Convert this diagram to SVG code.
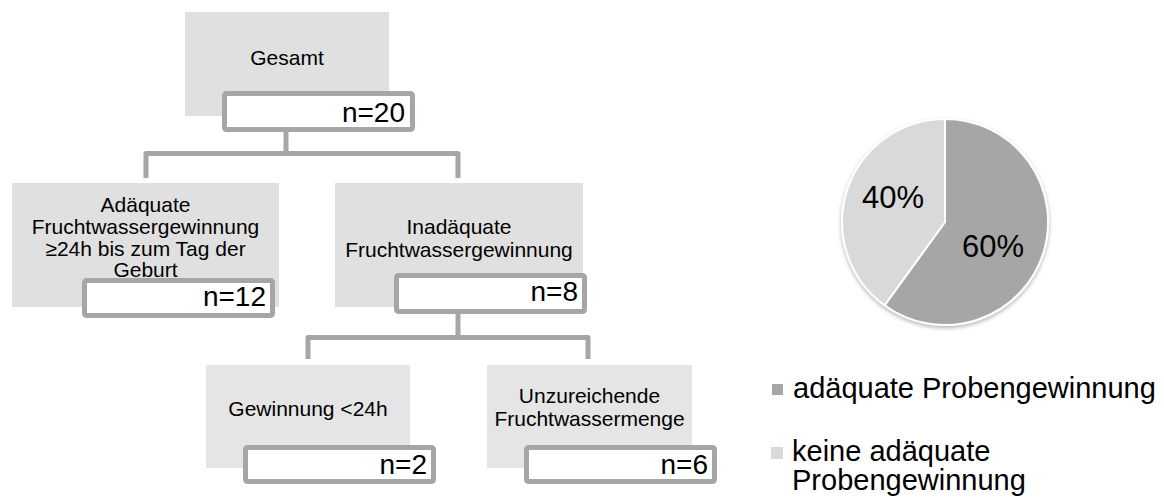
<svg xmlns="http://www.w3.org/2000/svg" width="1164" height="501" viewBox="0 0 1164 501">
<defs>
<style>
.box{fill:#e0e0e0;}
.box2{fill:#e5e5e5;}
.nbox{fill:#ffffff;stroke:#a6a6a6;stroke-width:5;}
.conn{fill:none;stroke:#a6a6a6;stroke-width:5;stroke-linejoin:round;stroke-linecap:butt;}
.lbl{font-family:"Liberation Sans",Arial,sans-serif;font-size:21px;fill:#000;text-anchor:middle;}
.num{font-family:"Liberation Sans",Arial,sans-serif;font-size:28px;fill:#000;text-anchor:end;}
.pct{font-family:"Liberation Sans",Arial,sans-serif;font-size:31px;fill:#000;}
.leg{font-family:"Liberation Sans",Arial,sans-serif;font-size:29px;fill:#000;}
</style>
<filter id="sh" x="-10%" y="-10%" width="120%" height="125%">
<feGaussianBlur in="SourceAlpha" stdDeviation="2"/>
<feOffset dx="0" dy="2"/>
<feComponentTransfer><feFuncA type="linear" slope="0.3"/></feComponentTransfer>
<feMerge><feMergeNode/><feMergeNode in="SourceGraphic"/></feMerge>
</filter>
</defs>
<rect width="1164" height="501" fill="#ffffff"/>

<g id="connectors">
<path class="conn" d="M286,132 V153.5"/>
<path class="conn" d="M146,178 V153.5 H458 V178"/>
<path class="conn" d="M458,314 V337.5"/>
<path class="conn" d="M308,359 V337.5 H588 V359"/>
</g>

<g id="node-gesamt">
<rect class="box" x="185" y="12" width="204" height="104"/>
<text class="lbl" x="287" y="65">Gesamt</text>
<rect class="nbox" x="224.5" y="93.5" width="188" height="36" rx="2"/>
<text class="num" x="405" y="122">n=20</text>
</g>

<g id="node-adaequat">
<rect class="box" x="12" y="183" width="267" height="124"/>
<text class="lbl" x="145.5"><tspan x="145.5" y="211.7">Adäquate</tspan><tspan x="145.5" y="234">Fruchtwassergewinnung</tspan><tspan x="145.5" y="256">≥24h bis zum Tag der</tspan><tspan x="145.5" y="277.3">Geburt</tspan></text>
<rect class="nbox" x="84.5" y="280.5" width="188" height="35" rx="2"/>
<text class="num" x="266" y="306">n=12</text>
</g>

<g id="node-inadaequat">
<rect class="box" x="335" y="183" width="248" height="124"/>
<text class="lbl" x="459"><tspan x="459" y="234">Inadäquate</tspan><tspan x="459" y="257">Fruchtwassergewinnung</tspan></text>
<rect class="nbox" x="396.5" y="275.5" width="188" height="36" rx="2"/>
<text class="num" x="578" y="301">n=8</text>
</g>

<g id="node-gewinnung">
<rect class="box2" x="206" y="365" width="204" height="103"/>
<text class="lbl" x="308" y="416">Gewinnung &lt;24h</text>
<rect class="nbox" x="245.5" y="447.5" width="188" height="34" rx="2"/>
<text class="num" x="427" y="474">n=2</text>
</g>

<g id="node-unzureichend">
<rect class="box2" x="487" y="365" width="205" height="103"/>
<text class="lbl" x="589.5"><tspan x="589.5" y="403">Unzureichende</tspan><tspan x="589.5" y="426">Fruchtwassermenge</tspan></text>
<rect class="nbox" x="526.5" y="447.5" width="188" height="34" rx="2"/>
<text class="num" x="708" y="474">n=6</text>
</g>

<g id="pie">
<g filter="url(#sh)">
<path d="M945,222 L945,119 A103,103 0 1,1 884.5,305.3 Z" fill="#a6a6a6" stroke="#ffffff" stroke-width="2" stroke-linejoin="round"/>
<path d="M945,222 L884.5,305.3 A103,103 0 0,1 945,119 Z" fill="#d9d9d9" stroke="#ffffff" stroke-width="2" stroke-linejoin="round"/>
</g>
<text class="pct" x="862" y="208">40%</text>
<text class="pct" x="962" y="257">60%</text>
</g>

<g id="legend">
<rect x="772" y="384" width="11" height="11" fill="#a6a6a6"/>
<text class="leg" x="793" y="398">adäquate Probengewinnung</text>
<rect x="771" y="447" width="12" height="12" fill="#d9d9d9"/>
<text class="leg"><tspan x="792" y="461">keine adäquate</tspan><tspan x="792" y="490">Probengewinnung</tspan></text>
</g>
</svg>
